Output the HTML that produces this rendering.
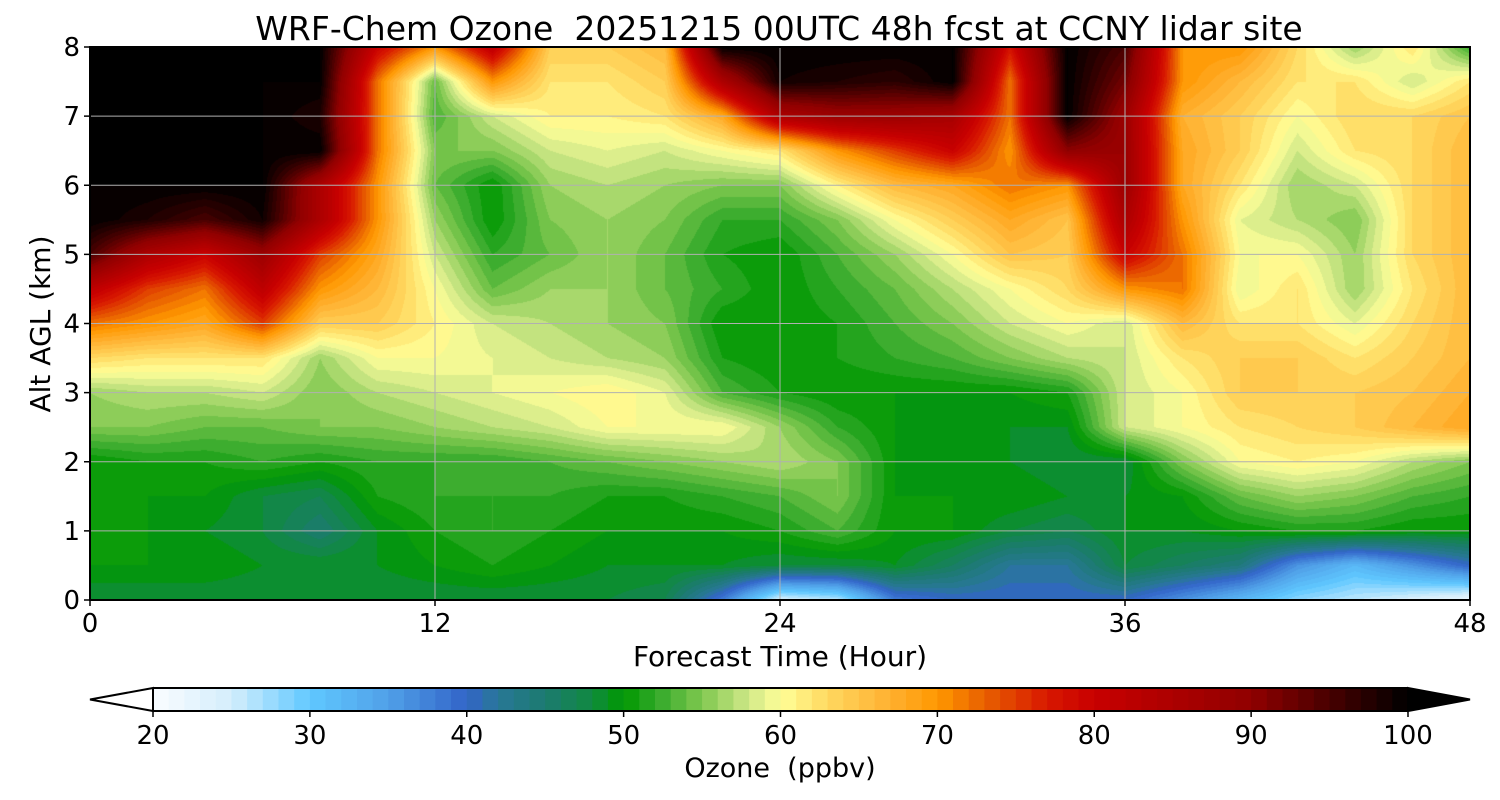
<!DOCTYPE html>
<html><head><meta charset="utf-8">
<style>
html,body{margin:0;padding:0;background:#fff;}
#wrap{position:relative;width:1500px;height:800px;font-family:"DejaVu Sans","Liberation Sans",sans-serif;}
canvas{position:absolute;left:90px;top:47px;}
svg{position:absolute;left:0;top:0;font-family:"DejaVu Sans","Liberation Sans",sans-serif;}
</style></head><body>
<div id="wrap">
<canvas id="cv" width="1380" height="553"></canvas>
<svg id="sv" width="1500" height="800"></svg>
</div>
<script>
// Forecast hours (columns) and altitudes (rows, top to bottom)
const hours = [0,2,4,6,8,10,12,14,16,18,20,22,24,26,28,30,32,34,36,38,40,42,44,46,48];
const altitudes = [8,7.5,7,6.5,6,5.5,5,4.5,4,3.5,3,2.5,2,1.5,1,0.5,0];
const ozone = [
[100,100,100,100,100,80,70,82,64,64,66,100,100,100,100,100,78,100,95,70,70,63,56,62,52],
[100,100,100,100,100,72,54,70,62,62,64,85,99,98,97,100,72,100,92,70,66,62,62,58,62],
[100,100,100,100,98,72,53,58,61,61,62,68,85,88,88,86,72,100,88,67,64,60,63,63,65],
[100,100,100,100,100,72,55,55,58,59,58,60,62,70,75,80,70,90,88,68,64,58,62,63,66],
[100,100,100,100,85,70,54,50,56,57,56,55,55,61,66,68,72,70,88,68,62,56,58,63,66],
[100,98,95,99,85,70,56,50,55,56,55,52,52,55,60,64,68,65,85,70,59,57,55,63,66],
[95,85,80,88,75,68,58,52,54,56,54,51,50,53,56,60,65,64,80,72,60,60,56,63,66],
[82,75,72,82,70,66,60,54,56,56,54,52,50,52,54,57,60,63,70,72,59,62,56,62,66],
[72,70,68,75,64,64,61,58,57,56,55,50,50,51,53,55,58,60,58,66,62,62,59,63,66],
[63,62,62,62,56,60,60,59,58,57,56,51,50,51,52,53,55,57,58,62,64,64,62,64,66],
[56,57,57,58,55,57,58,59,60,61,59,53,51,50,50,50,50,51,58,60,64,64,64,65,67],
[55,55,54,54,55,55,56,57,58,60,60,60,56,52,50,49,49,49,58,60,62,63,64,66,68],
[50,51,51,52,51,52,52,52,53,54,55,56,57,55,50,49,49,48,48,55,60,61,60,57,55],
[50,50,50,48,47,51,52,52,52,51,51,52,53,55,50,50,50,49,49,50,54,56,55,53,52],
[50,50,49,48,45,49,51,52,51,50,50,50,51,53,50,50,48,47,49,49,50,51,51,50,50],
[50,50,50,49,49,49,50,51,50,49,49,49,48,48,49,46,42,42,48,46,44,36,32,36,40],
[48,48,48,48,48,48,48,48,48,48,47,38,24,26,38,40,40,40,40,36,32,28,26,24,22]
];
const xTicks = [0,12,24,36,48];
const yTicks = [0,1,2,3,4,5,6,7,8];
const cbTicks = [20,30,40,50,60,70,80,90,100];
const cbLevels = []; for(let v=20; v<100; v++) cbLevels.push(v);

const stops=[[20,[250,252,255]],[25,[212,238,252]],[30,[96,200,255]],[35,[80,160,232]],[40,[50,100,200]],[42,[40,120,150]],[45,[28,122,112]],[48,[16,138,64]],[50,[0,152,0]],[52,[48,168,40]],[55,[128,200,80]],[58,[208,232,136]],[60,[255,255,152]],[63,[255,216,96]],[67,[255,176,48]],[70,[255,152,0]],[73,[232,96,0]],[77,[216,24,0]],[80,[200,0,0]],[90,[144,0,0]],[100,[0,0,0]]];
function cmap(v){
  if(v<=stops[0][0]) return stops[0][1];
  for(let i=1;i<stops.length;i++){ if(v<=stops[i][0]){const a=stops[i-1],b=stops[i];const t=(v-a[0])/(b[0]-a[0]);return a[1].map((c,k)=>Math.round(c+(b[1][k]-c)*t));}}
  return stops[stops.length-1][1];
}
function qcol(v){ if(v>=100) return [0,0,0]; if(v<20) return [255,255,255]; return cmap(Math.floor(v)+0.5); }

const X0=90,X1=1470,Y0=600,Y1=47;
const xs=h=>X0+(h-0)/(48)*(X1-X0);
const ys=a=>Y0-(a/8)*(Y0-Y1);

const cv=document.getElementById('cv'),ctx=cv.getContext('2d');
const W=cv.width,H=cv.height,img=ctx.createImageData(W,H);
function sample(h,a){
  let ci=0; while(ci<hours.length-2 && h>hours[ci+1]) ci++;
  const nr=altitudes.length; let ri=0; while(ri<nr-2 && a<altitudes[ri+1]) ri++;
  const tx=(h-hours[ci])/(hours[ci+1]-hours[ci]);
  const ty=(altitudes[ri]-a)/(altitudes[ri]-altitudes[ri+1]);
  const v00=ozone[ri][ci],v01=ozone[ri][ci+1],v10=ozone[ri+1][ci],v11=ozone[ri+1][ci+1];
  return (v00*(1-tx)+v01*tx)*(1-ty)+(v10*(1-tx)+v11*tx)*ty;
}
for(let py=0;py<H;py++){const a=8*(1-(py+0.5)/H);
  for(let px=0;px<W;px++){const h=48*(px+0.5)/W;const c=qcol(sample(h,a));const i=(py*W+px)*4;img.data[i]=c[0];img.data[i+1]=c[1];img.data[i+2]=c[2];img.data[i+3]=255;}}
ctx.putImageData(img,0,0);

const NS='http://www.w3.org/2000/svg',sv=document.getElementById('sv');
function mk(t,at,txt){const e=document.createElementNS(NS,t);for(const k in at)e.setAttribute(k,at[k]);if(txt!==undefined)e.textContent=txt;sv.appendChild(e);return e;}

xTicks.forEach(h=>{
  const g=mk('line',{x1:xs(h),x2:xs(h),y1:Y1,y2:Y0,stroke:'#b0b0b0','stroke-width':1});
   
  const t=mk('line',{x1:xs(h),x2:xs(h),y1:Y0,y2:Y0+6,stroke:'#000','stroke-width':1.5});
   
  const l=mk('text',{x:xs(h),y:632,'text-anchor':'middle','font-size':26},String(h));
   
});
yTicks.forEach(a=>{
  const g=mk('line',{x1:X0,x2:X1,y1:ys(a),y2:ys(a),stroke:'#b0b0b0','stroke-width':1});
   
  const t=mk('line',{x1:X0-6,x2:X0,y1:ys(a),y2:ys(a),stroke:'#000','stroke-width':1.5});
   
  const l=mk('text',{x:X0-10,y:ys(a)+9,'text-anchor':'end','font-size':26},String(a));
   
});
const fr=mk('rect',{x:X0,y:Y1,width:X1-X0,height:Y0-Y1,fill:'none',stroke:'#000','stroke-width':2});
 

const tt=mk('text',{x:779,y:40,'text-anchor':'middle','font-size':33,style:'white-space:pre'},'WRF-Chem Ozone  20251215 00UTC 48h fcst at CCNY lidar site');
 
const xl=mk('text',{x:780,y:666,'text-anchor':'middle','font-size':28},'Forecast Time (Hour)');
 
const yl=mk('text',{x:50,y:324,'text-anchor':'middle','font-size':28,transform:'rotate(-90 50 324)'},'Alt AGL (km)');
 

const C0=153,C1=1408,CY=688,CH=23;
const cx=v=>C0+(v-20)/80*(C1-C0);
cbLevels.forEach(v=>{
  const c=qcol(v);
  const r=mk('rect',{x:cx(v),y:CY,width:(C1-C0)/80+0.6,height:CH,fill:`rgb(${c[0]},${c[1]},${c[2]})`});
   
});
const lt=mk('polygon',{points:`${C0},${CY} 90,${CY+CH/2} ${C0},${CY+CH}`,fill:'#fff',stroke:'#000','stroke-width':2});
 
const rt=mk('polygon',{points:`${C1},${CY} 1470,${CY+CH/2} ${C1},${CY+CH}`,fill:'#000',stroke:'#000','stroke-width':2});
 
const cf=mk('polyline',{points:`${C0},${CY} ${C1},${CY}`,stroke:'#000','stroke-width':2,fill:'none'});
 
const cf2=mk('polyline',{points:`${C0},${CY+CH} ${C1},${CY+CH}`,stroke:'#000','stroke-width':2,fill:'none'});
 
cbTicks.forEach(v=>{
  const t=mk('line',{x1:cx(v),x2:cx(v),y1:CY+CH,y2:CY+CH+6,stroke:'#000','stroke-width':1.5});
   
  const l=mk('text',{x:cx(v),y:744,'text-anchor':'middle','font-size':26},String(v));
   
});
const cl=mk('text',{x:780,y:777,'text-anchor':'middle','font-size':27,style:'white-space:pre'},'Ozone  (ppbv)');
 
</script>
</body></html>
